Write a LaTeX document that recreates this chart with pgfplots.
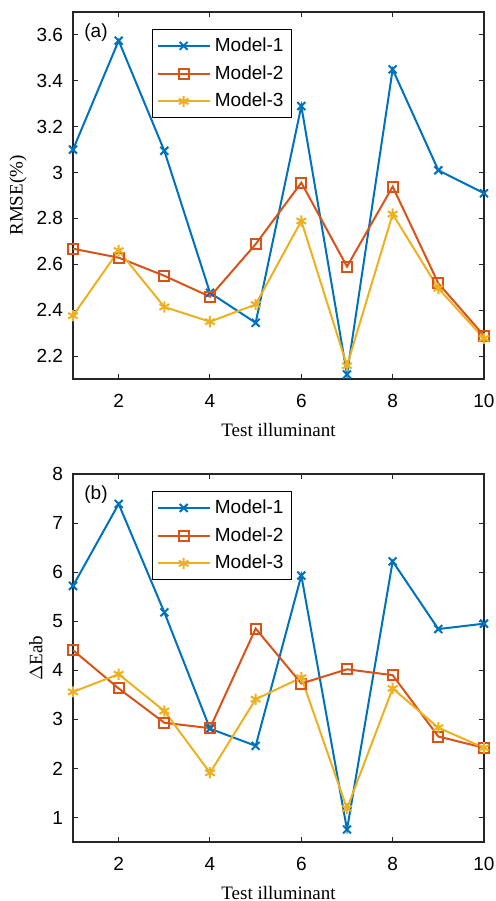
\documentclass[border=0pt]{standalone}
\usepackage{pgfplots}
\pgfplotsset{compat=1.18}
\usepackage{fontspec}
\setmainfont{Liberation Serif}
\setsansfont{Liberation Sans}

\definecolor{mblue}{rgb}{0,0.447,0.741}
\definecolor{mred}{rgb}{0.85,0.325,0.098}
\definecolor{myellow}{rgb}{0.929,0.694,0.125}

\pgfplotsset{
  mstyle/.style={
    scale only axis,
    width=205.5pt,
    height=183.5pt,
    xmin=1, xmax=10,
    xtick={2,4,6,8,10},
    tick align=inside,
    major tick length=2.5pt,
    tick style={black!85, line width=0.5pt},
    axis line style={black!85, line width=0.6pt},
    ticklabel style={font=\sffamily\fontsize{9.5}{11}\selectfont},
    xticklabel style={yshift=-4pt},
    yticklabel style={xshift=-1.5pt},
    /pgf/number format/assume math mode=true,
    label style={font=\fontsize{9.5}{11}\selectfont},
    xlabel={Test illuminant},
    xlabel style={yshift=-1pt},
    ylabel style={yshift=-2pt},
    legend cell align=left,
    legend style={at={(0.192,0.954)}, anchor=north west,
      font=\sffamily\fontsize{9.5}{11}\selectfont, draw=black, line width=0.6pt,
      inner sep=2pt, row sep=1.5pt},
    legend image code/.code={\draw[mark repeat=2,mark phase=2]
      plot coordinates {(0cm,0cm)(0.46cm,0cm)(0.92cm,0cm)};},
    every axis plot/.append style={line width=1pt},
  },
  m1/.style={color=mblue, mark=x, mark size=2.8pt, mark options={solid}},
  m2/.style={color=mred, mark=square, mark size=2.5pt, mark options={solid}},
  m3/.style={color=myellow, mark=asterisk, mark size=2.8pt, mark options={solid}},
}

\begin{document}
\begin{tikzpicture}
\path[use as bounding box] (0,0) rectangle (248pt,-450.5pt);

\begin{axis}[mstyle, at={(36.5pt,-6pt)}, anchor=north west,
  ymin=2.1, ymax=3.7, ytick={2.2,2.4,...,3.6},
  ylabel={RMSE(\%)}]
\addplot[m1] coordinates {(1,3.10)(2,3.575)(3,3.095)(4,2.476)(5,2.345)
  (6,3.29)(7,2.12)(8,3.45)(9,3.01)(10,2.91)};
\addlegendentry{Model-1}
\addplot[m2] coordinates {(1,2.668)(2,2.629)(3,2.55)(4,2.459)(5,2.688)
  (6,2.956)(7,2.59)(8,2.939)(9,2.517)(10,2.289)};
\addlegendentry{Model-2}
\addplot[m3] coordinates {(1,2.376)(2,2.66)(3,2.414)(4,2.35)(5,2.425)
  (6,2.789)(7,2.158)(8,2.819)(9,2.495)(10,2.277)};
\addlegendentry{Model-3}
\node[font=\sffamily\fontsize{9.5}{11}\selectfont] at (rel axis cs:0.056,0.943) {(a)};
\end{axis}

\begin{axis}[mstyle, at={(36.5pt,-237pt)}, anchor=north west, height=184pt,
  ymin=0.5, ymax=8, ytick={1,2,...,8},
  ylabel={$\Delta$Eab}]
\addplot[m1] coordinates {(1,5.72)(2,7.39)(3,5.18)(4,2.81)(5,2.46)
  (6,5.93)(7,0.755)(8,6.22)(9,4.84)(10,4.95)};
\addlegendentry{Model-1}
\addplot[m2] coordinates {(1,4.41)(2,3.63)(3,2.93)(4,2.82)(5,4.85)
  (6,3.73)(7,4.02)(8,3.90)(9,2.65)(10,2.42)};
\addlegendentry{Model-2}
\addplot[m3] coordinates {(1,3.56)(2,3.92)(3,3.17)(4,1.91)(5,3.41)
  (6,3.85)(7,1.18)(8,3.63)(9,2.83)(10,2.42)};
\addlegendentry{Model-3}
\node[font=\sffamily\fontsize{9.5}{11}\selectfont] at (rel axis cs:0.056,0.943) {(b)};
\end{axis}
\end{tikzpicture}
\end{document}
